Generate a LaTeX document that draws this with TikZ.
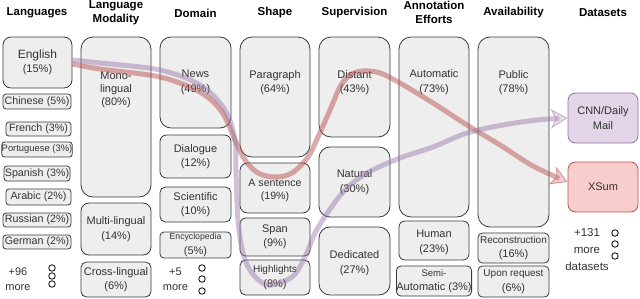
\documentclass[tikz,border=0pt]{standalone}
\usepackage{fontspec}
\setmainfont{Liberation Sans}
\usetikzlibrary{arrows.meta}
\definecolor{boxfill}{HTML}{EEEEEE}
\definecolor{boxline}{HTML}{36393D}
\definecolor{txt}{HTML}{333333}
\definecolor{redfill}{HTML}{F8CECC}
\definecolor{redline}{HTML}{B85450}
\definecolor{purfill}{HTML}{E1D5E7}
\definecolor{purline}{HTML}{9673A6}
\newcommand\fs[2]{\fontsize{#1}{#2}\selectfont}
\newcommand\bx[7]{\node[box, rounded corners=#6pt, minimum width={(#4-#2)*1pt}, minimum height={(#5-#3)*1pt}] (#1) at ({(#2+#4)/2},{(#3+#5)/2}) {#7};}
\tikzset{
  box/.style={draw=boxline, fill=boxfill, line width=0.8pt, inner sep=0pt, text=txt, align=center, font=\fs{11}{14.5}},
  lbl/.style={text=txt, align=center, inner sep=0pt, font=\fs{11}{14.5}},
  hdr/.style={text=black, align=center, inner sep=0pt, font=\bfseries\fs{11.5}{14.5}},
  dot/.style={draw=black, fill=white, circle, minimum size=6.5pt, inner sep=0pt, line width=0.8pt},
  flowred/.style={draw=redline, opacity=0.5, line width=5pt, -{Stealth[length=17pt,width=20pt,inset=5pt,line width=1pt,fill=redline!55!white]}},
  flowpur/.style={draw=purline, opacity=0.45, line width=5pt, -{Stealth[length=17pt,width=20pt,inset=5pt,line width=1pt,fill=purline!55!white]}},
}
\begin{document}
\begin{tikzpicture}[x=1pt,y=-1pt]
\useasboundingbox (0,0) rectangle (640,298);
% headers
\node[hdr] (h1) at (37,13) {Languages};
\node[hdr] (h2) at (116,12.5) {Language\\Modality};
\node[hdr] (h3) at (195.5,13) {Domain};
\node[hdr] (h4) at (275,13) {Shape};
\node[hdr] (h5) at (354.5,13) {Supervision};
\node[hdr] (h6) at (434,12.5) {Annotation\\Efforts};
\node[hdr] (h7) at (513.5,13) {Availability};
\node[hdr] (h8) at (603,13) {Datasets};
% Languages
\bx{en}{3}{37}{72}{88}{8}{\fs{12}{16.5}English\\(15\%)}
\bx{zh}{3}{94}{71}{109}{3}{\fs{10.7}{12}Chinese (5\%)}
\bx{fr}{6}{122}{71}{136}{3}{\fs{10.7}{12}French (3\%)}
\bx{pt}{3}{142}{71}{157}{3}{\fs{9.4}{11}Portuguese (3\%)}
\bx{es}{4}{166}{70}{181}{3}{\fs{10.7}{12}Spanish (3\%)}
\bx{ar}{6}{189}{71}{205}{3}{\fs{10.7}{12}Arabic (2\%)}
\bx{ru}{3}{213}{71}{227}{3}{\fs{10.7}{12}Russian (2\%)}
\bx{de}{3}{235}{71}{249}{3}{\fs{10.7}{12}German (2\%)}
\node[lbl, font=\fs{11}{15}] (lmore) at (18,279.5) {+96\\more};
\node[dot] (ld1) at (52,268) {};
\node[dot] (ld2) at (52,276) {};
\node[dot] (ld3) at (52,284) {};
% Language Modality
\bx{mono}{81}{37}{151}{197}{12}{}
\node[lbl, font=\fs{11}{13.3}] (monot) at (116,90) {Mono-\\lingual\\(80\%)};
\bx{multi}{81}{203}{151}{255}{8}{Multi-lingual\\(14\%)}
\bx{cross}{81}{262}{151}{297}{5.5}{Cross-lingual\\(6\%)}
% Domain
\bx{news}{160}{37}{231}{128}{11}{}
\node[lbl] (newst) at (195.5,82.5) {News\\(49\%)};
\bx{dial}{160}{135}{231}{178}{6.5}{Dialogue\\(12\%)}
\bx{sci}{160}{187}{231}{222}{5.5}{Scientific\\(10\%)}
\bx{enc}{160}{232}{231}{258}{4}{\fs{8.7}{14}Encyclopedia\\(5\%)}
\node[lbl] (dmore) at (175.5,279.5) {+5\\more};
\node[dot] (dd1) at (202,268) {};
\node[dot] (dd2) at (202,279) {};
\node[dot] (dd3) at (202,291) {};
% Shape
\bx{para}{240}{37}{310}{157}{12}{}
\node[lbl] (parat) at (275,82.5) {Paragraph\\(64\%)};
\bx{sent}{240}{163}{310}{213}{7.5}{}
\node[lbl, font=\fs{10.6}{13}] (sentt) at (275,190) {A sentence\\(19\%)};
\bx{span}{240}{218}{310}{256}{6}{\fs{11}{14.5}Span\\(9\%)}
\bx{high}{240}{260}{310}{295}{5.5}{\fs{10}{13.5}Highlights\\(8\%)}
% Supervision
\bx{dist}{319}{37}{390}{137}{12}{}
\node[lbl] (distt) at (354.5,82.5) {Distant\\(43\%)};
\bx{nat}{319}{147}{390}{217}{11}{Natural\\(30\%)}
\bx{ded}{319}{227}{390}{295}{11}{}
\node[lbl] (dedt) at (354.5,263) {Dedicated\\(27\%)};
% Annotation Efforts
\bx{auto}{399}{37}{469}{217}{12}{}
\node[lbl] (autot) at (434,82) {Automatic\\(73\%)};
\bx{hum}{399}{221}{469}{260}{6}{}
\node[lbl] (humt) at (434,242.5) {Human\\(23\%)};
\bx{semi}{399}{266}{469}{296}{4.5}{\fs{9.5}{12}Semi-\\Automatic (3\%)}
% Availability
\bx{pub}{478}{37}{549}{227}{12}{}
\node[lbl] (pubt) at (513.5,82.5) {Public\\(78\%)};
\bx{recon}{478}{233}{549}{263}{4.5}{\fs{10}{15}Reconstruction\\(16\%)}
\bx{upon}{478}{266}{549}{297}{4.5}{\fs{10}{13}Upon request\\(6\%)}
% Datasets
\node[box, draw=purline, fill=purfill, rounded corners=7.5pt, minimum width=70pt, minimum height=50pt] (cnn) at (603,118) {CNN/Daily\\Mail};
\node[box, draw=redline, fill=redfill, rounded corners=7.5pt, minimum width=70pt, minimum height=50pt] (xsum) at (603,187) {XSum};
\node[lbl, font=\fs{11.5}{17}] (dsmore) at (587,249.5) {+131\\more\\datasets};
\node[dot] (sd1) at (615,233) {};
\node[dot] (sd2) at (615,244) {};
\node[dot] (sd3) at (615,256) {};
% flows
\draw[flowred] plot[smooth, tension=0.55] coordinates {([yshift=-1.5pt]en.east) (100,69) (160,77) (200,92) (222,112) (235,140) (245,160) (258,173) (275,177) (292,173) (308,157) (318,137) (330,110) (340,87) (350,75) (363,71) (380,73) (400,83) (433,103) (467,125) (500,145) (533,166) ([yshift=5pt]xsum.west)};
\draw[flowpur] plot[smooth, tension=0.55] coordinates {([yshift=2.5pt]en.east) (100,63) (160,70) (200,85) (225,110) (235,140) (236,170) (238,220) (243,253) (252,273) (268,285) (292,277) (305,257) (315,233) (328,212) (345,190) (367,173) (400,158) (433,147) (467,133) (503,125) (537,120) (cnn.west)};
\end{tikzpicture}
\end{document}
